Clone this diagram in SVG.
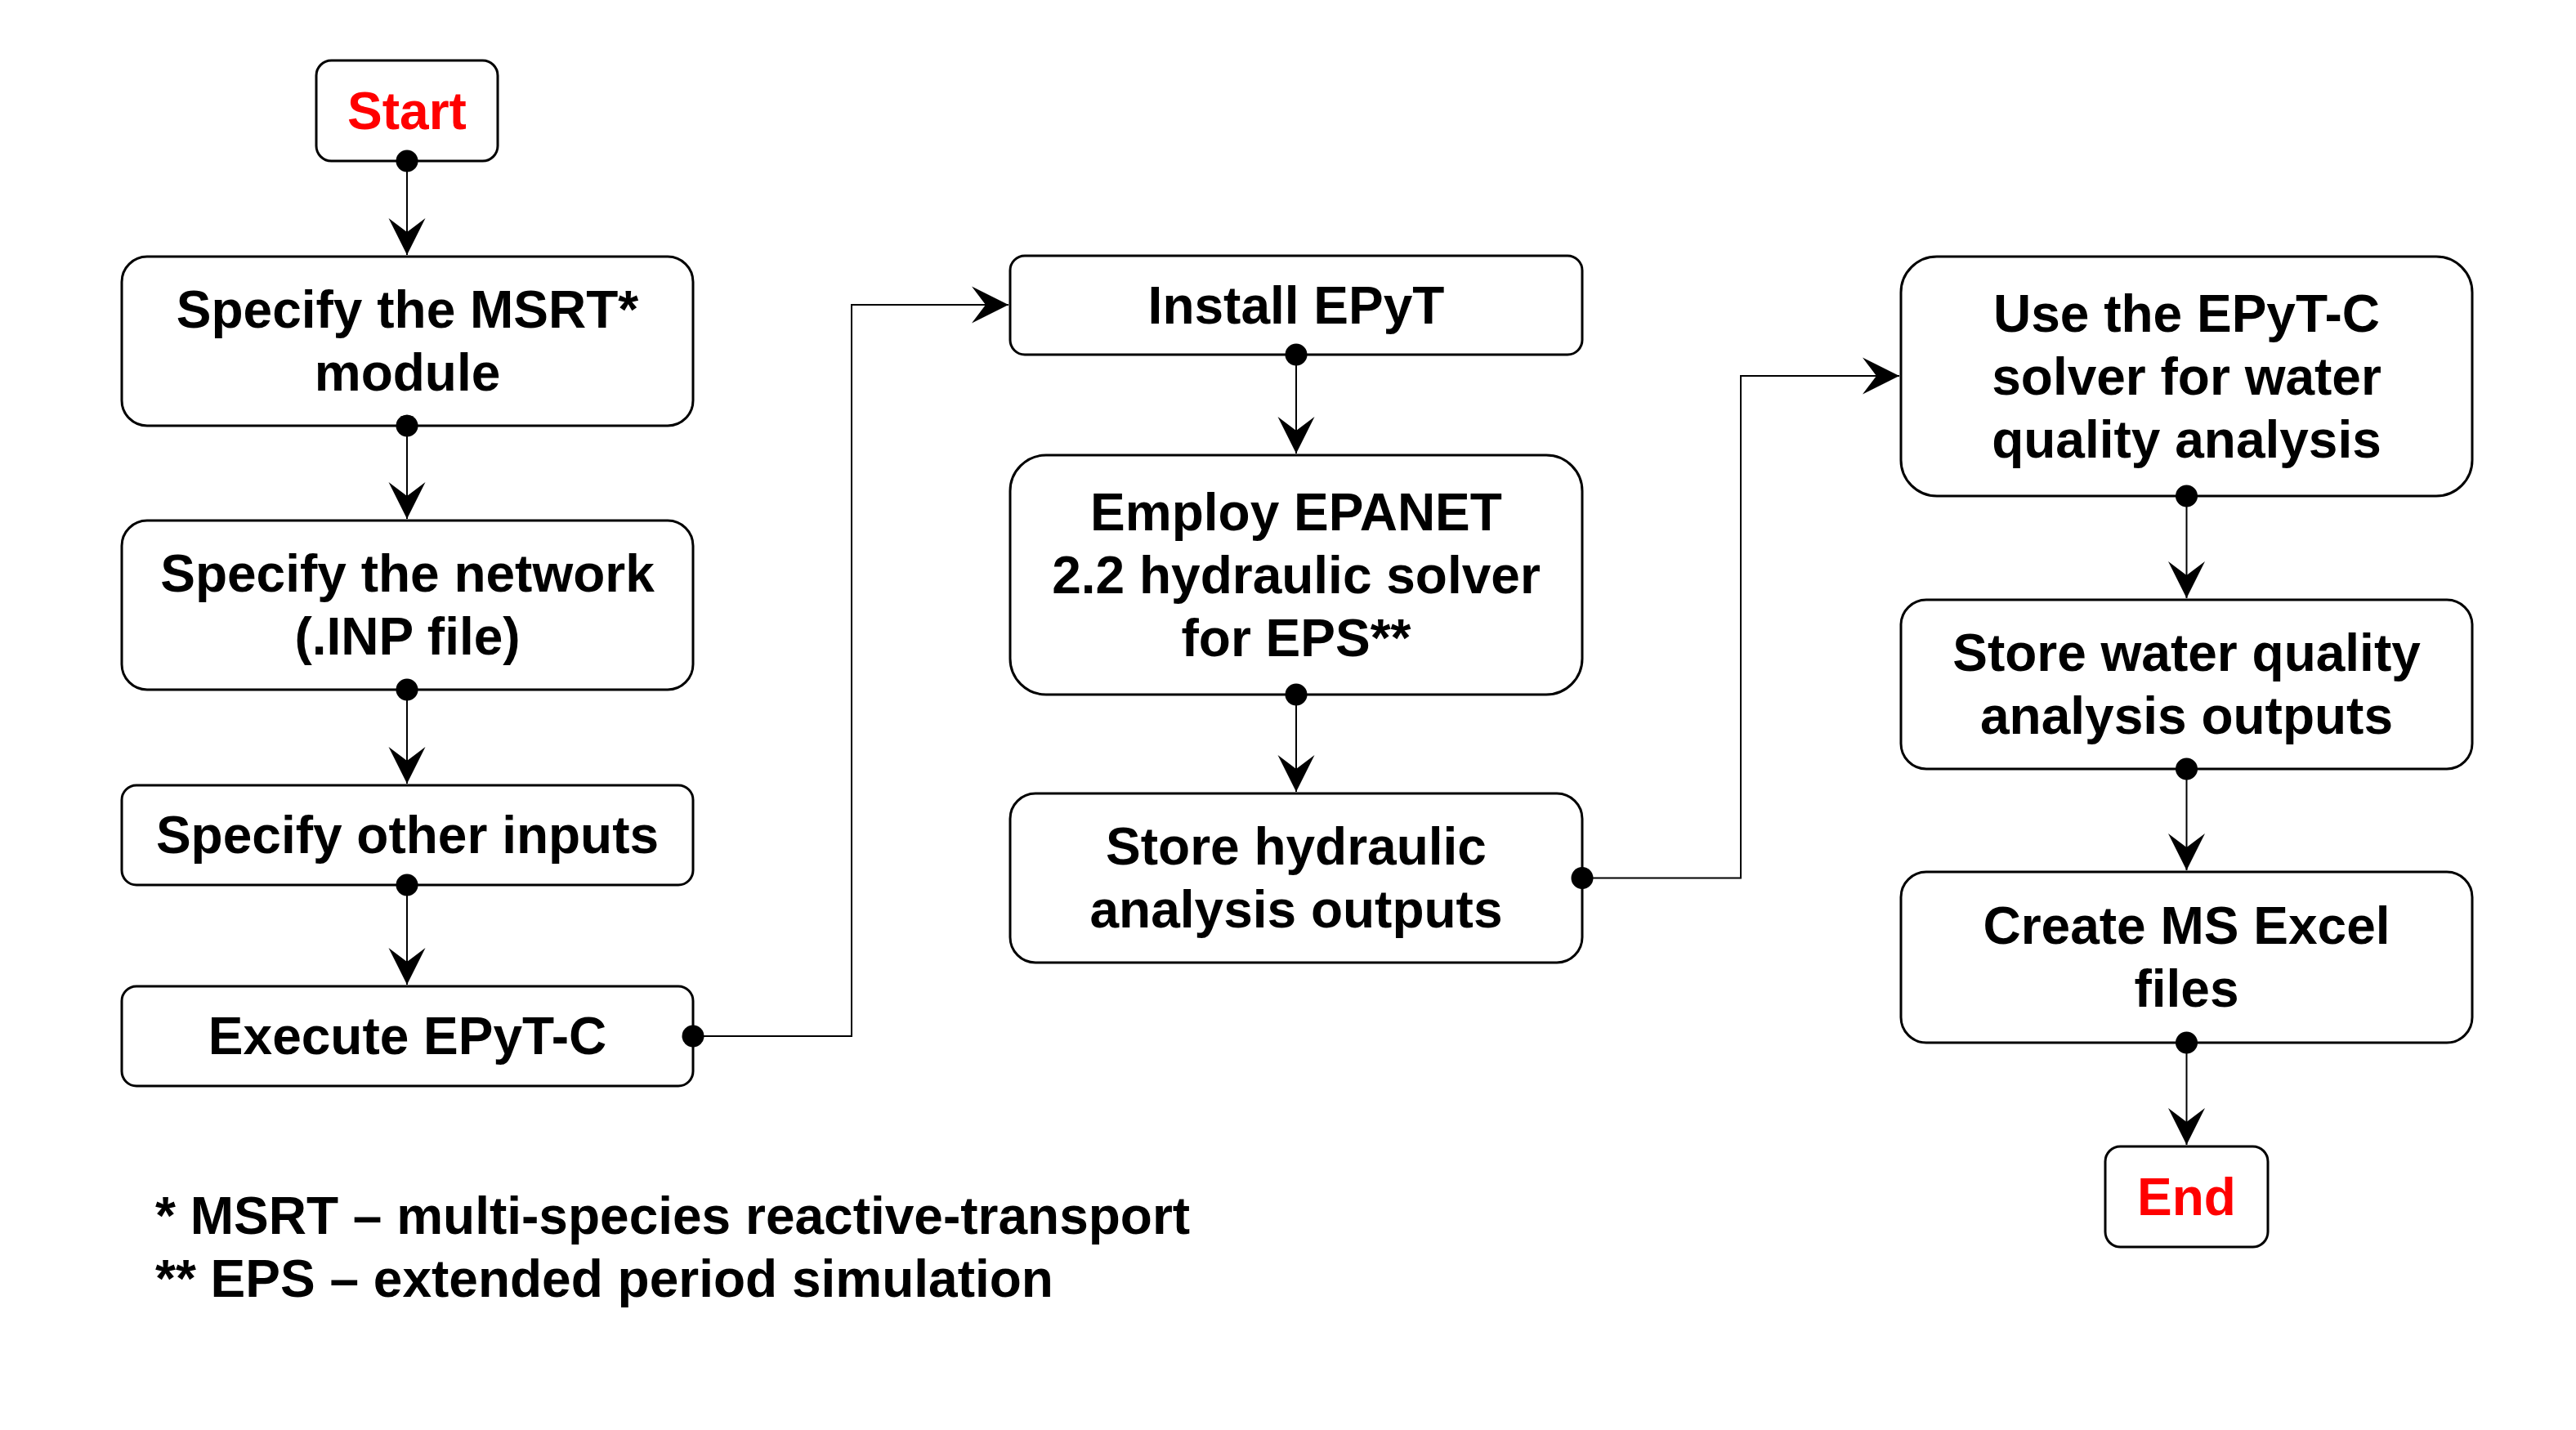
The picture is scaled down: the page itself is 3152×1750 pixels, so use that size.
<svg xmlns="http://www.w3.org/2000/svg" width="3152" height="1750" viewBox="0 0 3152 1750">
<style>
.box{fill:#fff;stroke:#000;stroke-width:3}
.t{font-family:"Liberation Sans",Arial,sans-serif;font-weight:bold;font-size:64px;fill:#000;text-anchor:middle}
.red{fill:#ff0000}
.note{font-family:"Liberation Sans",Arial,sans-serif;font-weight:bold;font-size:64px;fill:#000}
.c{fill:none;stroke:#000;stroke-width:2;marker-start:url(#dot);marker-end:url(#arr)}
</style>
<defs>
<marker id="arr" markerUnits="userSpaceOnUse" viewBox="-46 -23 47 46" refX="0" refY="0" markerWidth="47" markerHeight="46" orient="auto">
<path d="M0,0 L-45,-22.5 L-28,0 L-45,22.5 Z" fill="#000"/>
</marker>
<marker id="dot" markerUnits="userSpaceOnUse" viewBox="-14 -14 28 28" refX="0" refY="0" markerWidth="28" markerHeight="28" orient="auto">
<circle cx="0" cy="0" r="13.5" fill="#000"/>
</marker>
</defs>
<rect width="3152" height="1750" fill="#fff"/>
<g id="start"><rect class="box" x="387" y="74" width="222" height="123" rx="18.5"/><text class="t red" x="498" y="157.7">Start</text></g>
<g id="msrt"><rect class="box" x="149" y="314" width="699" height="207" rx="31"/><text class="t" x="498.5" y="401.3">Specify the MSRT*</text><text class="t" x="498.5" y="478.1">module</text></g>
<g id="network"><rect class="box" x="149" y="637" width="699" height="207" rx="31"/><text class="t" x="498.5" y="724.3">Specify the network</text><text class="t" x="498.5" y="801.1">(.INP file)</text></g>
<g id="other"><rect class="box" x="149" y="961" width="699" height="122" rx="18"/><text class="t" x="498.5" y="1044.2">Specify other inputs</text></g>
<g id="execute"><rect class="box" x="149" y="1207" width="699" height="122" rx="18"/><text class="t" x="498.5" y="1290.2">Execute EPyT-C</text></g>
<g id="install"><rect class="box" x="1236" y="313" width="700" height="121" rx="18"/><text class="t" x="1586" y="395.7">Install EPyT</text></g>
<g id="employ"><rect class="box" x="1236" y="557" width="700" height="293" rx="44"/><text class="t" x="1586" y="648.9">Employ EPANET</text><text class="t" x="1586" y="725.7">2.2 hydraulic solver</text><text class="t" x="1586" y="802.5">for EPS**</text></g>
<g id="storehyd"><rect class="box" x="1236" y="971" width="700" height="207" rx="31"/><text class="t" x="1586" y="1058.3">Store hydraulic</text><text class="t" x="1586" y="1135.1">analysis outputs</text></g>
<g id="use"><rect class="box" x="2326" y="314" width="699" height="293" rx="44"/><text class="t" x="2675.5" y="405.9">Use the EPyT-C</text><text class="t" x="2675.5" y="482.7">solver for water</text><text class="t" x="2675.5" y="559.5">quality analysis</text></g>
<g id="storewq"><rect class="box" x="2326" y="734" width="699" height="207" rx="31"/><text class="t" x="2675.5" y="821.3">Store water quality</text><text class="t" x="2675.5" y="898.1">analysis outputs</text></g>
<g id="create"><rect class="box" x="2326" y="1067" width="699" height="209" rx="31"/><text class="t" x="2675.5" y="1155.3">Create MS Excel</text><text class="t" x="2675.5" y="1232.1">files</text></g>
<g id="end"><rect class="box" x="2576" y="1403" width="199" height="123" rx="18.5"/><text class="t red" x="2675.5" y="1486.7">End</text></g>
<g id="connectors">
<path class="c" d="M498,197 V312"/>
<path class="c" d="M498,521 V635"/>
<path class="c" d="M498,844 V959"/>
<path class="c" d="M498,1083 V1205"/>
<path class="c" d="M848,1268 H1042 V373 H1234"/>
<path class="c" d="M1586,434 V555"/>
<path class="c" d="M1586,850 V969"/>
<path class="c" d="M1936,1074.5 H2130 V460 H2324"/>
<path class="c" d="M2675.5,607 V732"/>
<path class="c" d="M2675.5,941 V1065"/>
<path class="c" d="M2675.5,1276 V1401"/>
</g>
<g id="notes">
<text class="note" x="190" y="1510">* MSRT – multi-species reactive-transport</text>
<text class="note" x="190" y="1587">** EPS – extended period simulation</text>
</g>
</svg>
